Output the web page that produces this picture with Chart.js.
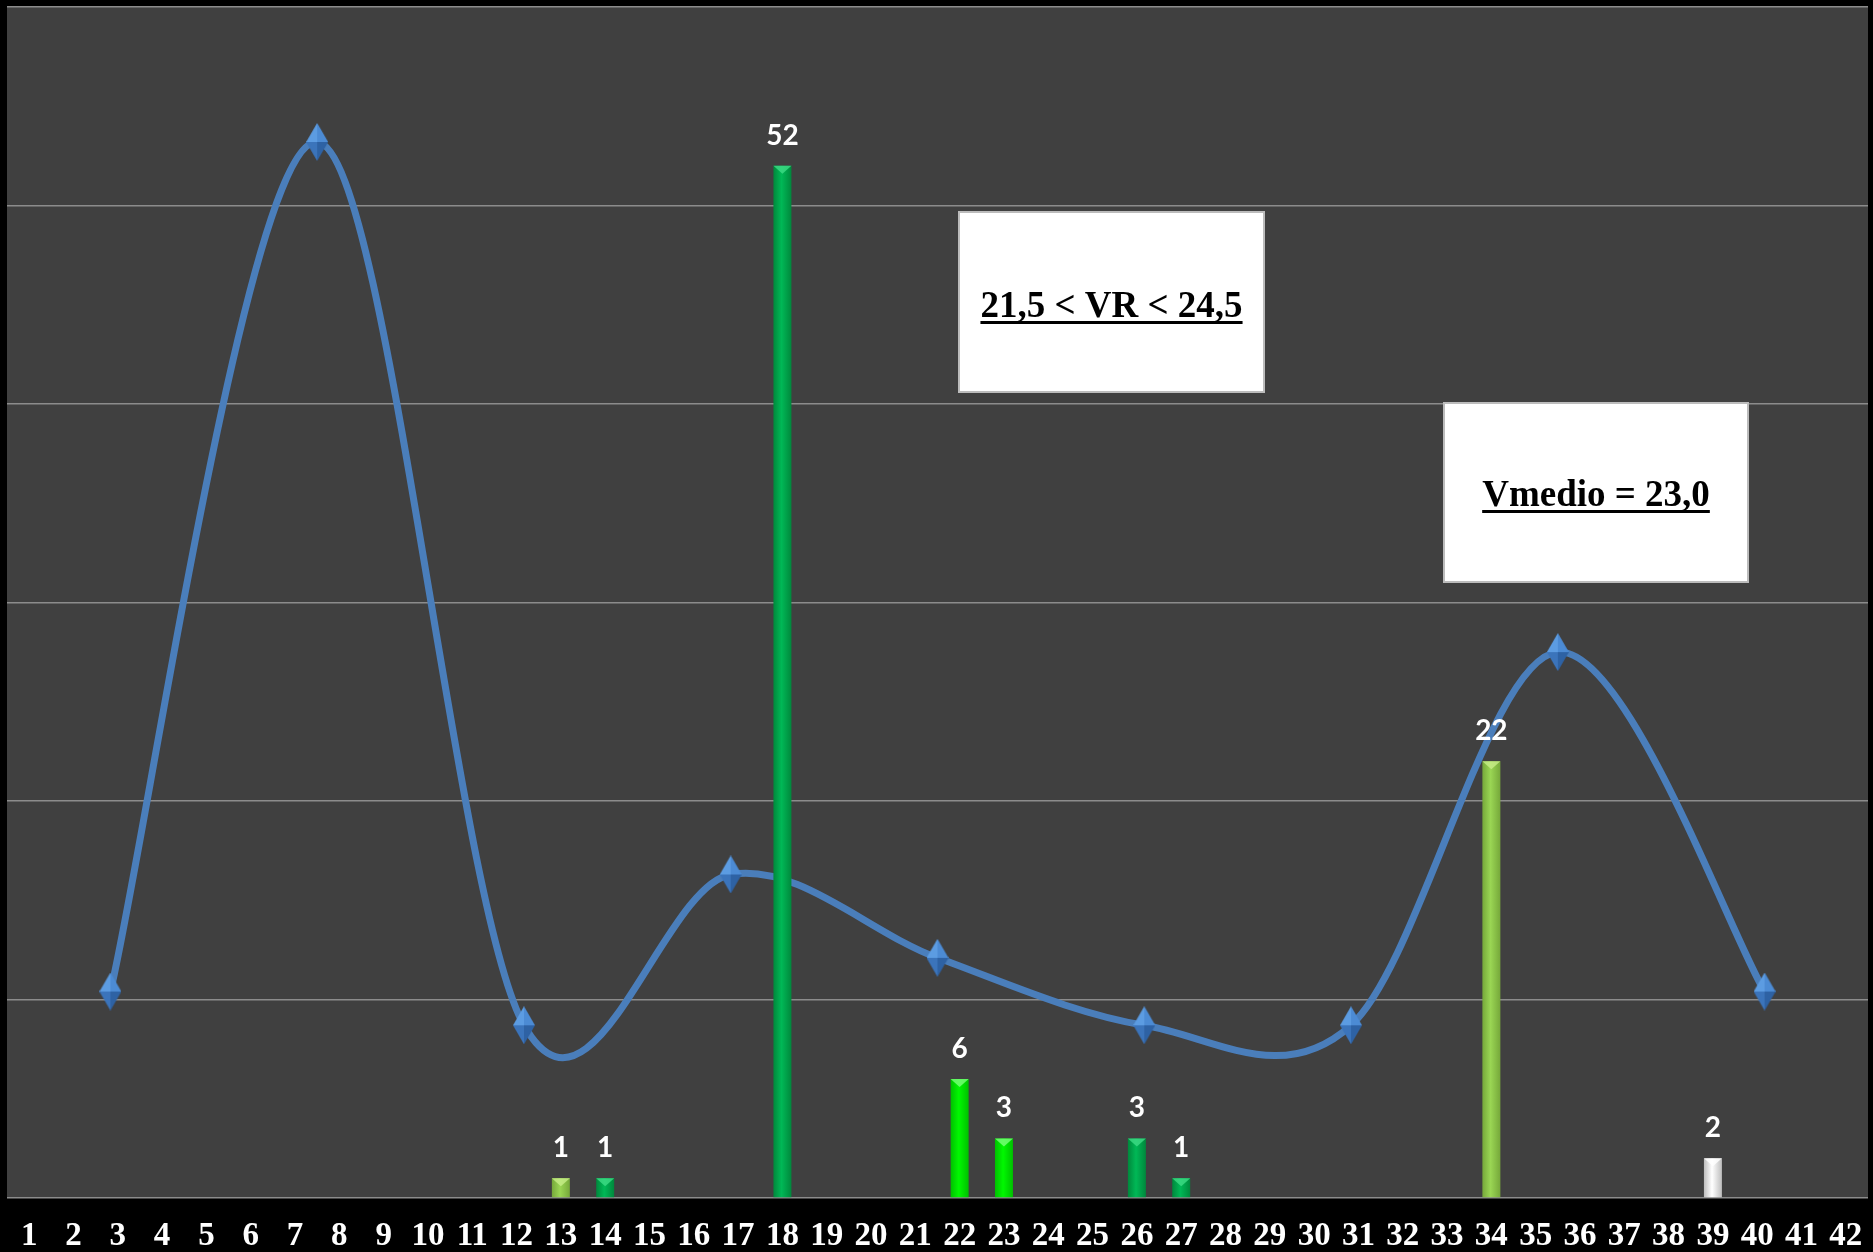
<!DOCTYPE html>
<html>
<head>
<meta charset="utf-8">
<script src="https://cdn.jsdelivr.net/npm/chart.js@4.4.1/dist/chart.umd.min.js"></script>
<style>
    html, body { margin: 0; padding: 0; background: #000; overflow: hidden; }
    #wrap { width: 1873px; height: 1252px; position: relative; }
    canvas { display: block; }
</style>
</head>
<body>
<div id="wrap"><canvas id="freqChart"></canvas></div>
<script>
// x categories of the bars
const categories = ['1','2','3','4','5','6','7','8','9','10','11','12','13','14','15','16','17','18','19','20','21',
                    '22','23','24','25','26','27','28','29','30','31','32','33','34','35','36','37','38','39','40','41','42'];

// bar heights (null = no bar)
const barValues = [null, null, null, null, null, null, null, null, null, null, null, null,
                   1, 1, null, null, null, 52, null, null, null,
                   6, 3, null, null, 3, 1, null, null, null, null, null, null,
                   22, null, null, null, null, 2, null, null, null];

// colour key of each bar
const barColors = ['', '', '', '', '', '', '', '', '', '', '', '',
                   'olive', 'green', '', '', '', 'green', '', '', '',
                   'lime', 'lime', '', '', 'green', 'green', '', '', '', '', '', '',
                   'olive', '', '', '', '', 'white', '', '', ''];

// smoothed blue curve, on its own evenly spaced axis
const lineLabels = ['1','2','3','4','5','6','7','8','9'];
const lineValues = [10.4, 53.2, 8.7, 16.3, 12.1, 8.7, 8.7, 27.5, 10.4];

const yTicks = [0, 10, 20, 30, 40, 50, 60];

// edge / centre / cap shades for the bars
const palette = {
    olive: ['#76a83a', '#9ad654', '#c8ee8a'],
    green: ['#00883c', '#00b856', '#3fdc86'],
    lime:  ['#00c000', '#00f800', '#7aff7a'],
    white: ['#bdbdbd', '#ffffff', '#ffffff']
};

function barFill(ctx) {
    const key = barColors[ctx.dataIndex];
    if (!key) return 'rgba(0,0,0,0)';
    const chart = ctx.chart;
    const xs = chart.scales.x;
    if (!xs) return palette[key][1];
    const cx = xs.getPixelForValue(ctx.dataIndex);
    const g = chart.ctx.createLinearGradient(cx - 9, 0, cx + 9, 0);
    g.addColorStop(0, palette[key][0]);
    g.addColorStop(0.45, palette[key][1]);
    g.addColorStop(1, palette[key][0]);
    return g;
}

// elongated 3d diamond marker
function diamond() {
    const c = document.createElement('canvas');
    c.width = 22; c.height = 38;
    const g = c.getContext('2d');
    const tri = (pts, col) => {
        g.beginPath();
        g.moveTo(pts[0][0], pts[0][1]);
        pts.slice(1).forEach(p => g.lineTo(p[0], p[1]));
        g.closePath();
        g.fillStyle = col;
        g.fill();
    };
    tri([[11, 0], [0, 19], [11, 19]], '#5c9ce2');
    tri([[11, 0], [22, 19], [11, 19]], '#4c8bd4');
    tri([[0, 19], [11, 38], [11, 19]], '#3b74bb');
    tri([[22, 19], [11, 38], [11, 19]], '#2e62a4');
    return c;
}

// Excel style smoothing (uniform Catmull-Rom handles)
const excelSmooth = {
    id: 'excelSmooth',
    beforeDatasetsDraw(chart) {
        const meta = chart.getDatasetMeta(0);
        const pts = meta.data;
        pts.forEach((p, i) => {
            const prev = pts[Math.max(i - 1, 0)];
            const next = pts[Math.min(i + 1, pts.length - 1)];
            const dx = (next.x - prev.x) / 6, dy = (next.y - prev.y) / 6;
            p.cp1x = p.x - dx; p.cp1y = p.y - dy;
            p.cp2x = p.x + dx; p.cp2y = p.y + dy;
        });
        meta.dataset._pointsUpdated = true;
    }
};

// bevel cap on top of each bar + value labels
const barLabels = {
    id: 'barLabels',
    afterDatasetsDraw(chart) {
        const ctx = chart.ctx;
        const meta = chart.getDatasetMeta(1);
        ctx.save();
        meta.data.forEach((bar, i) => {
            if (barValues[i] == null) return;
            const half = bar.width / 2;
            ctx.beginPath();
            ctx.moveTo(bar.x - half, bar.y);
            ctx.lineTo(bar.x + half, bar.y);
            ctx.lineTo(bar.x, bar.y + Math.min(8, bar.height));
            ctx.closePath();
            ctx.fillStyle = palette[barColors[i]][2];
            ctx.globalAlpha = 0.8;
            ctx.fill();
            ctx.globalAlpha = 1;
        });
        ctx.font = 'bold 28px Lato, "Open Sans", sans-serif';
        ctx.fillStyle = '#ffffff';
        ctx.textAlign = 'center';
        ctx.textBaseline = 'alphabetic';
        meta.data.forEach((bar, i) => {
            if (barValues[i] == null) return;
            ctx.fillText(String(barValues[i]), bar.x, bar.y - 21);
        });
        ctx.restore();
    }
};

const noteBoxes = {
    id: 'noteBoxes',
    afterDraw(chart) {
        const ctx = chart.ctx;
        const boxes = [
            { x: 959, y: 212, w: 305, h: 180, text: '21,5 < VR < 24,5', base: 317 },
            { x: 1444, y: 403, w: 304, h: 179, text: 'Vmedio = 23,0', base: 506 }
        ];
        ctx.save();
        boxes.forEach(b => {
            ctx.fillStyle = '#ffffff';
            ctx.fillRect(b.x, b.y, b.w, b.h);
            ctx.strokeStyle = '#bcbcbc';
            ctx.lineWidth = 2;
            ctx.strokeRect(b.x, b.y, b.w, b.h);
            ctx.font = 'bold 37px "Liberation Serif", "Times New Roman", serif';
            ctx.fillStyle = '#000';
            ctx.textAlign = 'center';
            ctx.textBaseline = 'alphabetic';
            const cx = b.x + b.w / 2;
            ctx.fillText(b.text, cx, b.base);
            const tw = ctx.measureText(b.text).width;
            ctx.fillRect(cx - tw / 2, b.base + 4, tw, 3);
        });
        ctx.restore();
    }
};

const plotBg = {
    id: 'plotBg',
    beforeDraw(chart) {
        const a = chart.chartArea;
        const ctx = chart.ctx;
        ctx.save();
        ctx.fillStyle = '#000';
        ctx.fillRect(0, 0, chart.width, chart.height);
        ctx.fillStyle = '#404040';
        ctx.fillRect(a.left, a.top, a.right - a.left, a.bottom - a.top);
        ctx.restore();
    }
};

new Chart(document.getElementById('freqChart'), {
    type: 'bar',
    data: {
        labels: categories,
        datasets: [
            {
                type: 'line',
                data: lineValues,
                xAxisID: 'x2',
                borderColor: '#4a7ebb',
                borderWidth: 7,
                tension: 0.4,
                fill: false,
                pointStyle: diamond(),
                order: 2
            },
            {
                type: 'bar',
                data: barValues,
                xAxisID: 'x',
                backgroundColor: barFill,
                borderWidth: 0,
                grouped: false,
                categoryPercentage: 1,
                barPercentage: 0.406,
                order: 1
            }
        ]
    },
    options: {
        responsive: true,
        maintainAspectRatio: false,
        animation: false,
        layout: { autoPadding: false, padding: { left: 7, right: 5, top: 7, bottom: 0 } },
        plugins: {
            legend: { display: false },
            tooltip: { enabled: false }
        },
        scales: {
            x: {
                offset: true,
                grid: { display: true, color: 'rgba(0,0,0,0)', drawOnChartArea: false, drawTicks: true, tickLength: 19 },
                border: { display: false },
                ticks: {
                    color: '#ffffff',
                    font: { family: '"Liberation Serif", "Times New Roman", serif', weight: 'bold', size: 33 },
                    padding: 0,
                    autoSkip: false,
                    maxRotation: 0
                },
                afterFit(s) { s.height = 54; }
            },
            x2: {
                type: 'category',
                labels: lineLabels,
                offset: true,
                display: false
            },
            y: {
                min: yTicks[0],
                max: yTicks[yTicks.length - 1],
                afterBuildTicks(s) { s.ticks = yTicks.map(v => ({ value: v })); },
                ticks: { display: false, padding: 0 },
                grid: { color: '#8c8c8c', lineWidth: 1.5, drawTicks: false },
                border: { display: false },
                afterFit(s) { s.width = 0; }
            }
        }
    },
    plugins: [plotBg, excelSmooth, barLabels, noteBoxes]
});
</script>
</body>
</html>
